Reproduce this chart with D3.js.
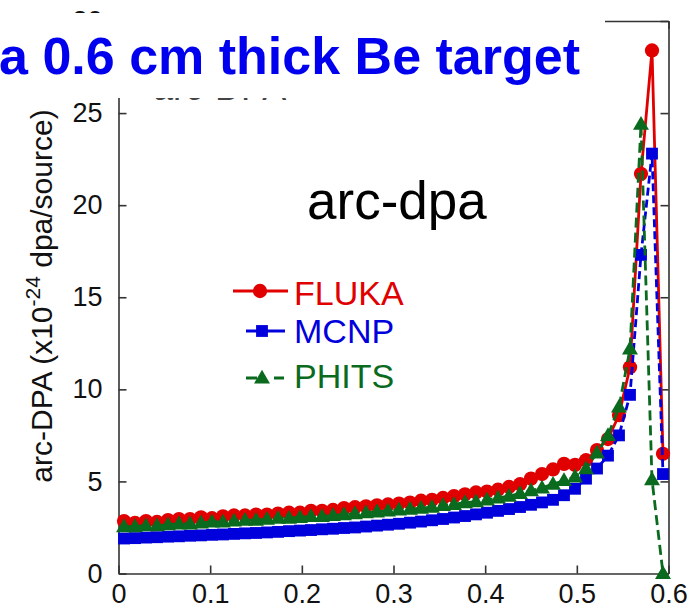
<!DOCTYPE html>
<html>
<head>
<meta charset="utf-8">
<script src="https://cdn.jsdelivr.net/npm/d3@7"></script>
<style>
  html, body { margin: 0; padding: 0; background: #fff; }
  svg { display: block; font-family: Arial, "Liberation Sans", sans-serif; }
</style>
</head>
<body>
<svg id="chart" width="687" height="606"></svg>
<script>
// ---- data ----
const xValues = [0.006, 0.018, 0.030, 0.042, 0.054, 0.066, 0.078, 0.090, 0.102, 0.114,
                 0.126, 0.138, 0.150, 0.162, 0.174, 0.186, 0.198, 0.210, 0.222, 0.234,
                 0.246, 0.258, 0.270, 0.282, 0.294, 0.306, 0.318, 0.330, 0.342, 0.354,
                 0.366, 0.378, 0.390, 0.402, 0.414, 0.426, 0.438, 0.450, 0.462, 0.474,
                 0.486, 0.498, 0.510, 0.522, 0.534, 0.546, 0.558, 0.570, 0.582, 0.594];
const fluka = [2.85, 2.75, 2.85, 2.80, 2.90, 2.95, 2.95, 3.05, 3.00, 3.10,
               3.15, 3.15, 3.20, 3.20, 3.25, 3.30, 3.30, 3.40, 3.40, 3.45,
               3.55, 3.60, 3.65, 3.70, 3.75, 3.80, 3.85, 3.95, 4.00, 4.10,
               4.20, 4.30, 4.40, 4.45, 4.55, 4.70, 4.85, 5.15, 5.40, 5.65,
               5.95, 5.90, 6.15, 6.70, 7.30, 8.60, 11.2, 21.7, 28.4, 6.50];
const mcnp  = [1.90, 1.92, 1.95, 1.97, 2.00, 2.02, 2.05, 2.07, 2.10, 2.12,
               2.15, 2.18, 2.20, 2.23, 2.26, 2.30, 2.33, 2.36, 2.40, 2.43,
               2.47, 2.50, 2.55, 2.60, 2.65, 2.70, 2.76, 2.82, 2.89, 2.96,
               3.04, 3.12, 3.21, 3.30, 3.40, 3.50, 3.61, 3.73, 3.86, 4.00,
               4.25, 4.60, 5.15, 5.70, 6.40, 7.50, 9.70, 17.3, 22.8, 5.40];
const phits = [2.55, 2.55, 2.60, 2.60, 2.65, 2.70, 2.70, 2.75, 2.80, 2.80,
               2.85, 2.90, 2.90, 2.95, 3.00, 3.00, 3.05, 3.10, 3.10, 3.15,
               3.20, 3.25, 3.30, 3.35, 3.40, 3.45, 3.50, 3.55, 3.60, 3.70,
               3.75, 3.85, 3.90, 4.00, 4.10, 4.20, 4.35, 4.50, 4.65, 4.85,
               5.05, 5.25, 5.70, 6.55, 7.50, 9.05, 12.2, 24.4, 5.10, 0.00];
const seriesNames = ["FLUKA", "MCNP", "PHITS"];
const xTicks = [0, 0.1, 0.2, 0.3, 0.4, 0.5, 0.6];
const xTickLabels = ["0", "0.1", "0.2", "0.3", "0.4", "0.5", "0.6"];
const yTicks = [0, 5, 10, 15, 20, 25, 30];
const yTickLabels = ["0", "5", "10", "15", "20", "25", "30"];

// ---- layout ----
const svg = d3.select("#chart");
const pLeft = 118.5, pRight = 668.5, pTop = 21, pBottom = 573.5;
const x = d3.scaleLinear().domain([0, 0.6]).range([pLeft, pRight]);
const y = d3.scaleLinear().domain([0, 30]).range([pBottom, pTop]);
const axisColor = "#333";

const colors = { FLUKA: "#e00000", MCNP: "#0000dd", PHITS: "#0a6a1e" };
const dashes = { FLUKA: null, MCNP: "8,4", PHITS: "10,5" };
const dataBy = { FLUKA: fluka, MCNP: mcnp, PHITS: phits };

// faint chart title partly hidden by the slide title
svg.append("text").attr("x", 153).attr("y", 100)
  .attr("font-size", 36).attr("fill", "#444").text("arc-DPA");

// axes
function styleAxis(g) {
  g.selectAll("path.domain").attr("stroke", axisColor).attr("stroke-width", 1.6);
  g.selectAll(".tick line").attr("stroke", axisColor).attr("stroke-width", 1.6);
  g.selectAll(".tick text").attr("fill", "#111").attr("font-size", 27)
    .attr("font-family", "Arial, 'Liberation Sans', sans-serif");
}
const xAxis = d3.axisBottom(x).tickValues(xTicks)
  .tickFormat((d, i) => xTickLabels[i]).tickSizeInner(-8).tickSizeOuter(0).tickPadding(5);
svg.append("g").attr("transform", `translate(0,${pBottom})`).call(xAxis).call(styleAxis)
  .selectAll(".tick text").attr("dy", "0.9em");

const xTopAxis = d3.axisTop(x).tickValues(xTicks).tickFormat("").tickSizeInner(-8).tickSizeOuter(0);
svg.append("g").attr("transform", `translate(0,${pTop})`).call(xTopAxis).call(styleAxis);

const yAxis = d3.axisLeft(y).tickValues(yTicks)
  .tickFormat((d, i) => yTickLabels[i]).tickSizeInner(-8).tickSizeOuter(0).tickPadding(16);
svg.append("g").attr("transform", `translate(${pLeft},0)`).call(yAxis).call(styleAxis);

const yRightAxis = d3.axisRight(y).tickValues(yTicks).tickFormat("").tickSizeInner(-8).tickSizeOuter(0);
svg.append("g").attr("transform", `translate(${pRight},0)`).call(yRightAxis).call(styleAxis);

// y axis label
const yl = svg.append("text")
  .attr("transform", `translate(52,296) rotate(-90)`)
  .attr("text-anchor", "middle").attr("font-size", 30).attr("fill", "#111");
yl.append("tspan").text("arc-DPA (x10");
yl.append("tspan").attr("font-size", 21).attr("dy", -12).text("-24");
yl.append("tspan").attr("dy", 12).text(" dpa/source)");

// series
const line = d3.line().x(d => x(d[0])).y(d => y(d[1]));
const sym = {
  FLUKA: d3.symbol(d3.symbolCircle, 160),
  MCNP: d3.symbol(d3.symbolSquare, 140),
  PHITS: d3.symbol(d3.symbolTriangle, 110)
};
seriesNames.forEach(name => {
  const pts = xValues.map((xv, i) => [xv, dataBy[name][i]]);
  const g = svg.append("g");
  g.append("path").datum(pts).attr("d", line).attr("fill", "none")
    .attr("stroke", colors[name]).attr("stroke-width", 2.8)
    .attr("stroke-dasharray", dashes[name]);
  g.selectAll("path.m").data(pts).enter().append("path").attr("class", "m")
    .attr("d", sym[name]())
    .attr("transform", d => `translate(${x(d[0])},${y(d[1]) + (name === "PHITS" ? 1 : 0)})`)
    .attr("fill", colors[name]);
});

// annotation
svg.append("text").attr("x", 307).attr("y", 219).attr("font-size", 53)
  .attr("fill", "#000").text("arc-dpa");

// legend
const legendRows = [
  { name: "FLUKA", ly: 291, ty: 305, x1: 233, x2: 288, mx: 260 },
  { name: "MCNP",  ly: 331, ty: 343, x1: 246, x2: 285, mx: 262 },
  { name: "PHITS", ly: 378, ty: 388, x1: 246, x2: 284, mx: 262 }
];
legendRows.forEach(r => {
  const g = svg.append("g");
  g.append("line").attr("x1", r.x1).attr("x2", r.x2).attr("y1", r.ly).attr("y2", r.ly)
    .attr("stroke", colors[r.name]).attr("stroke-width", 2.8)
    .attr("stroke-dasharray", r.name === "PHITS" ? "11,17,11" : null);
  g.append("path").attr("d", sym[r.name]())
    .attr("transform", `translate(${r.mx},${r.ly + (r.name === "PHITS" ? 1 : 0)})`)
    .attr("fill", colors[r.name]);
  g.append("text").attr("x", 294).attr("y", r.ty).attr("font-size", 34)
    .attr("fill", colors[r.name]).text(r.name);
});

// slide title overlay with white background
svg.append("rect").attr("x", 0).attr("y", 13).attr("width", 605).attr("height", 85).attr("fill", "#fff");
svg.append("text").attr("x", 580).attr("y", 74).attr("text-anchor", "end")
  .attr("font-size", 52).attr("font-weight", "bold").attr("fill", "#0000ee")
  .text("a 0.6 cm thick Be target");
</script>
</body>
</html>
